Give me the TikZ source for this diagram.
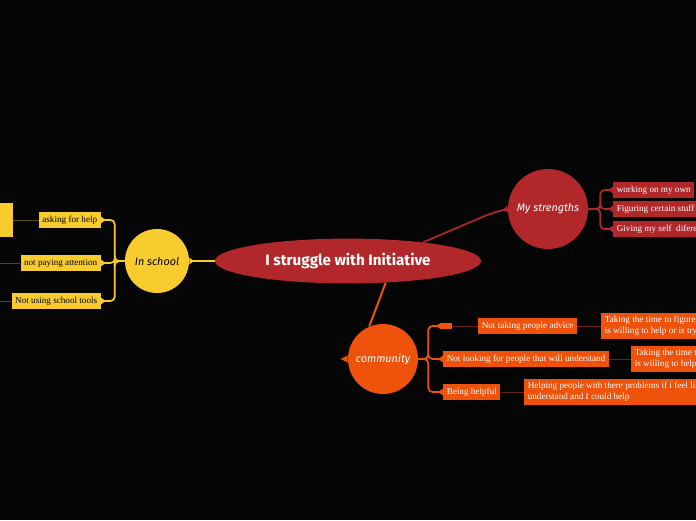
\documentclass[tikz,border=0pt]{standalone}
\usepackage{fontspec}
\setmainfont{Liberation Serif}
\newfontfamily\topicfont{Fira Sans}
\newfontfamily\handfont{Fira Sans}
\usetikzlibrary{arrows.meta,shapes.geometric}
\definecolor{bgcol}{HTML}{050505}
\definecolor{redcol}{HTML}{B2282A}
\definecolor{yelcol}{HTML}{F8CC2E}
\definecolor{orcol}{HTML}{EE520B}
\definecolor{yeldark}{HTML}{5C4A12}
\definecolor{ordark}{HTML}{6B2306}

\begin{document}
\begin{tikzpicture}[x=0.025cm, y=-0.025cm,
  topic/.style={ellipse, fill=redcol, minimum width=6.65cm, minimum height=1.12cm, inner sep=0pt,
                text=white, font=\topicfont\bfseries\fontsize{10.8}{12}\selectfont},
  branch/.style={circle, minimum size=#1, inner sep=0pt, font=\handfont\itshape\fontsize{7.7}{9}\selectfont},
  leaf/.style={inner sep=2.5pt, minimum height=0.4cm, font=\fontsize{6.5}{7.6}\selectfont},
  leaftwo/.style={leaf, align=left, minimum height=0.65cm},
  tip/.style={-{Triangle[reversed, length=3.5pt, width=4.5pt]}},
  bracket/.style={rounded corners=3pt, line width=1.2pt, tip}]
  \fill[bgcol] (0,0) rectangle (696,520);
  \useasboundingbox (0,0) rectangle (696,520);
  \clip (0,0) rectangle (696,520);

  % central topic
  \node[topic] (topic) at (348,261) {I struggle with Initiative};

  % in school
  \node[branch=1.6cm, fill=yelcol] (school) at (157,261) {In school};
  \node[leaf, fill=yelcol, anchor=east] (ask)    at (101,220) {asking for help};
  \node[leaf, fill=yelcol, anchor=east] (notpay) at (101,263) {not paying attention};
  \node[leaf, fill=yelcol, anchor=east] (tools)  at (101,301) {Not using school tools};
  \node[fill=yelcol, anchor=east, minimum width=1.2cm, minimum height=0.85cm] (askfar) at (13,220) {};
  \coordinate (notpayfar) at (-5,263);
  \coordinate (toolsfar)  at (-5,301);
  \draw[yelcol, line width=1.4pt, tip] (topic.west) -- (school.east);
  \draw[yelcol, bracket] (school.west) -- ++(-10,0) |- (ask.east);
  \draw[yelcol, bracket] (school.west) -- ++(-10,0) |- (notpay.east);
  \draw[yelcol, bracket] (school.west) -- ++(-10,0) |- (tools.east);
  \draw[yeldark, semithick] (ask.west) -- (askfar.east);
  \draw[yeldark, semithick] (notpay.west) -- (notpayfar);
  \draw[yeldark, semithick] (tools.west) -- (toolsfar);

  % my strengths
  \node[branch=2cm, fill=redcol, text=white] (strengths) at (548,209) {My strengths};
  \node[leaf, fill=redcol, text=white, anchor=west] (work)   at (613,190) {working on my own};
  \node[leaf, fill=redcol, text=white, anchor=west] (figure) at (613,209) {Figuring certain stuff out};
  \node[leaf, fill=redcol, text=white, anchor=west] (giving) at (613,229) {Giving my self\ \ diferent};
  \draw[redcol, line width=1.2pt, rounded corners=8pt, tip] (topic.14) -- (494,212) -- (strengths.west);
  \draw[redcol, bracket] (strengths.east) -- ++(12,0) |- (work.west);
  \draw[redcol, bracket] (strengths.east) -- ++(12,0) |- (figure.west);
  \draw[redcol, bracket] (strengths.east) -- ++(12,0) |- (giving.west);

  % community
  \node[branch=1.75cm, fill=orcol, text=white] (community) at (383,359) {community};
  \fill[orcol] (community.west) ++(0,-3.5) -- ++(-7,3.5) -- ++(7,3.5) -- cycle;
  \node[fill=orcol, anchor=west, minimum width=0.275cm, minimum height=0.15cm, inner sep=0pt] (advbox) at (441,326) {};
  \node[leaf, fill=orcol, text=white, anchor=west] (advice)  at (478,326) {Not taking people advice};
  \node[leaf, fill=orcol, text=white, anchor=west] (notlook) at (443,359) {Not looking for people that will understand};
  \node[leaf, fill=orcol, text=white, anchor=west] (helpful) at (443,392) {Being helpful};
  \node[leaftwo, fill=orcol, text=white, anchor=west] (advsub)  at (601,326)
    {Taking the time to figure out who\\is willing to help or is trying};
  \node[leaftwo, fill=orcol, text=white, anchor=west] (looksub) at (631,359)
    {Taking the time to look for who\\is willing to help or listen};
  \node[leaftwo, fill=orcol, text=white, anchor=west] (helpsub) at (524,392)
    {Helping people with there problems if i feel like they\\understand and I could help};
  \draw[orcol, line width=1.4pt] (topic.-30) -- (community.113);
  \draw[orcol, bracket] (community.east) -- ++(10,0) |- (advbox.west);
  \draw[orcol, bracket] (community.east) -- ++(10,0) |- (notlook.west);
  \draw[orcol, bracket] (community.east) -- ++(10,0) |- (helpful.west);
  \draw[ordark, semithick] (advbox.east) -- (advice.west);
  \draw[ordark, semithick] (advice.east) -- (advsub.west);
  \draw[ordark, semithick] (notlook.east) -- (looksub.west);
  \draw[ordark, semithick] (helpful.east) -- (helpsub.west);
\end{tikzpicture}
\end{document}
